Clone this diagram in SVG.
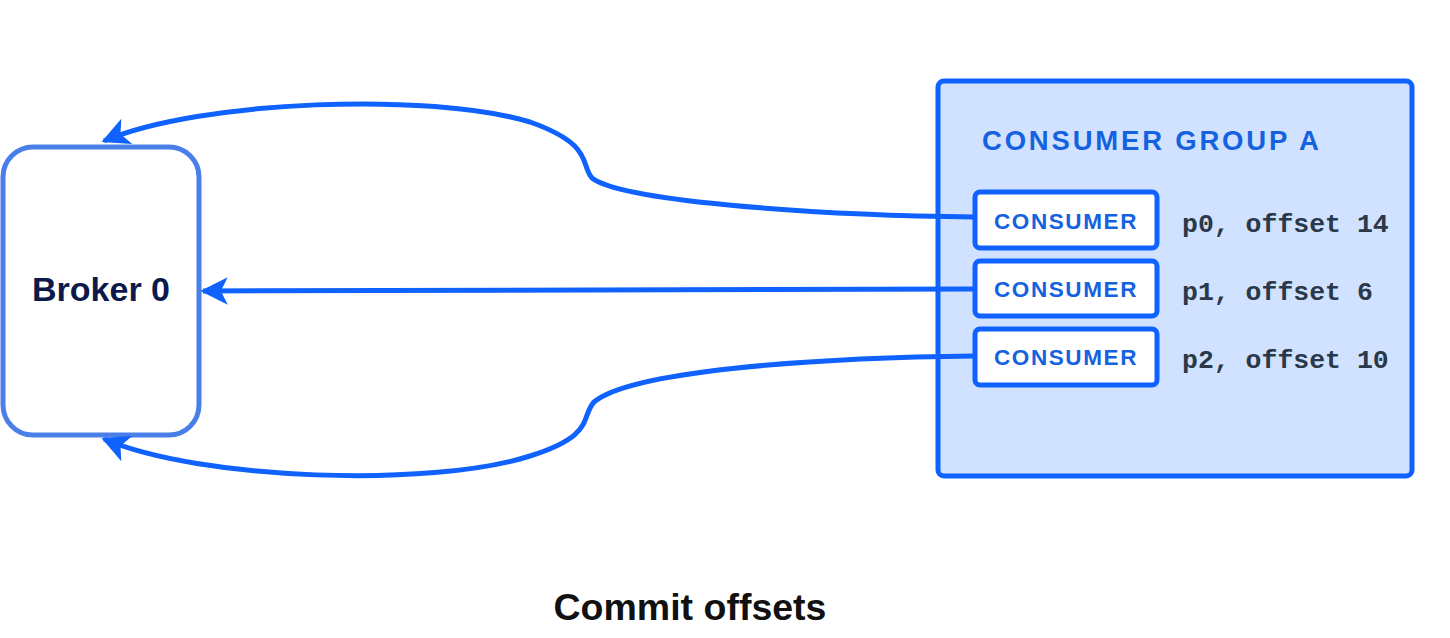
<svg xmlns="http://www.w3.org/2000/svg" width="1450" height="638" viewBox="0 0 1450 638">
<defs>
<marker id="arr" viewBox="0 0 10 10" refX="9" refY="5" markerWidth="5.5" markerHeight="5.5" markerUnits="strokeWidth" orient="auto">
<path d="M0,0 L10,5 L0,10 L2.5,5 z" fill="#0f62fe"/>
</marker>
<style>
.conn{fill:none;stroke:#0f62fe;stroke-width:5;marker-end:url(#arr)}
.cbox{fill:#ffffff;stroke:#0f62fe;stroke-width:5}
.ctext{font-family:"Liberation Sans",Arial,sans-serif;font-weight:bold;font-size:22.5px;letter-spacing:1.6px;fill:#1562e0;text-anchor:middle}
.off{font-family:"Liberation Mono","DejaVu Sans Mono",monospace;font-weight:bold;font-size:26.5px;fill:#2a3848}
</style>
</defs>
<rect width="1450" height="638" fill="#ffffff"/>
<g id="group-a">
<rect x="938" y="81" width="474" height="395" rx="6" fill="#d0e2ff" stroke="#0f62fe" stroke-width="5"/>
<text x="982" y="150" font-family="Liberation Sans,Arial,sans-serif" font-weight="bold" font-size="27.5" letter-spacing="2.8" fill="#1562e0">CONSUMER GROUP A</text>
</g>
<g id="broker0">
<rect x="3" y="147" width="196" height="288" rx="30" fill="#ffffff" stroke="#4a7fea" stroke-width="5"/>
<text x="101" y="301" text-anchor="middle" font-family="Liberation Sans,Arial,sans-serif" font-weight="bold" font-size="34" fill="#0b1a4a">Broker 0</text>
</g>
<g id="consumer0">
<rect class="cbox" x="975" y="192" width="182" height="56" rx="5"/>
<text class="ctext" x="1066" y="229">CONSUMER</text>
<text class="off" x="1182" y="232">p0, offset 14</text>
</g>
<g id="consumer1">
<rect class="cbox" x="975" y="261" width="182" height="55" rx="5"/>
<text class="ctext" x="1066" y="297">CONSUMER</text>
<text class="off" x="1182" y="300">p1, offset 6</text>
</g>
<g id="consumer2">
<rect class="cbox" x="975" y="329" width="182" height="56" rx="5"/>
<text class="ctext" x="1066" y="365">CONSUMER</text>
<text class="off" x="1182" y="368">p2, offset 10</text>
</g>
<g id="connectors">
<path class="conn" d="M 975 217 C 800 215, 620 200, 592 178 C 580 165, 595 145, 530 122 C 430 92, 200 100, 104 141"/>
<path class="conn" d="M 975 289 L 203 291"/>
<path class="conn" d="M 975 356 C 800 358, 630 372, 594 402 C 580 418, 596 435, 530 456 C 430 488, 200 480, 104 439"/>
</g>
<text id="caption" x="690" y="620" text-anchor="middle" font-family="Liberation Sans,Arial,sans-serif" font-weight="bold" font-size="37.5" fill="#111111">Commit offsets</text>
</svg>
